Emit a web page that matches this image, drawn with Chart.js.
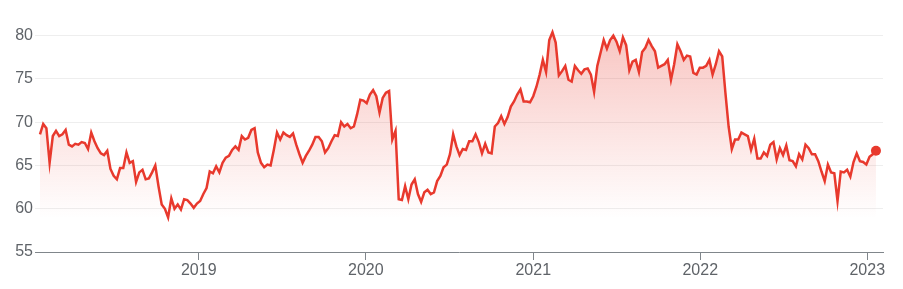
<!DOCTYPE html>
<html lang="en">
<head>
    <meta charset="UTF-8">
    <title>Weekly price</title>
    <script src="https://cdn.jsdelivr.net/npm/chart.js@4.4.0/dist/chart.umd.min.js"></script>
    <style>
        body { margin: 0; background: #fff; }
        #wrap { width: 903px; height: 289px; }
    </style>
</head>
<body>
    <div id="wrap"><canvas id="priceChart" width="903" height="289"></canvas></div>

    <script>
        // weekly closes, first week starting 2018-01-19
        const startDate = Date.UTC(2018, 0, 19);
        const prices = [
            68.6, 69.8, 69.3, 65.3, 68.4, 69.0, 68.4, 68.6, 69.1, 67.4, 67.2, 67.5, 67.4, 67.7, 67.6, 66.9, 68.8, 67.8, 67.0, 66.4,
            66.2, 66.7, 64.6, 63.8, 63.4, 64.7, 64.7, 66.5, 65.3, 65.5, 63.1, 64.2, 64.5, 63.4, 63.5, 64.2, 65.0, 62.6, 60.5, 60.0,
            59.0, 61.2, 60.0, 60.5, 59.9, 61.1, 61.0, 60.6, 60.1, 60.6,
            60.9, 61.7, 62.4, 64.3, 64.1, 64.9, 64.2, 65.3, 65.9, 66.1, 66.8, 67.2, 66.8, 68.4, 68.0, 68.2, 69.1, 69.3, 66.5, 65.3,
            64.8, 65.1, 65.0, 66.8, 68.8, 68.0, 68.8, 68.5, 68.3, 68.7, 67.4, 66.3, 65.3, 66.1, 66.7, 67.4, 68.3, 68.3, 67.8, 66.5,
            67.0, 67.8, 68.5, 68.4, 70.0, 69.5, 69.8, 69.3, 69.5, 70.9, 72.6, 72.5, 72.2, 73.2, 73.7, 73.0,
            71.1, 72.8, 73.4, 73.6, 68.0, 69.0, 61.1, 61.0, 62.6, 61.1, 62.8, 63.4, 61.7, 60.8, 61.9, 62.2, 61.7, 61.9, 63.2, 63.8,
            64.8, 65.1, 66.3, 68.6, 67.2, 66.2, 66.9, 66.8, 67.8, 67.8, 68.6, 67.7, 66.4, 67.5, 66.5, 66.4, 69.5, 69.9, 70.7, 69.8,
            70.6, 71.8, 72.4, 73.2, 73.8, 72.4, 72.4, 72.3, 73.0, 74.1, 75.5, 77.2, 75.8, 79.5, 80.4, 79.2,
            75.4, 75.9, 76.5, 74.9, 74.7, 76.5, 76.0, 75.6, 76.1, 76.2, 75.5, 73.5, 76.5, 78.0, 79.5, 78.5, 79.5, 80.0, 79.3, 78.2,
            79.8, 78.9, 76.0, 77.0, 77.2, 75.8, 78.1, 78.6, 79.5, 78.8, 78.2, 76.3, 76.5, 76.7, 77.2, 74.9, 76.7, 79.0, 78.2, 77.2,
            77.7, 77.6, 75.7, 75.5, 76.3, 76.3, 76.5, 77.2, 75.5, 76.7,
            78.2, 77.6, 73.4, 69.5, 66.9, 68.0, 68.0, 68.8, 68.6, 68.4, 66.8, 68.1, 65.8, 65.8, 66.5, 66.1, 67.4, 67.7, 65.7, 67.0,
            66.2, 67.3, 65.6, 65.5, 64.9, 66.3, 65.7, 67.4, 67.0, 66.3, 66.3, 65.5, 64.3, 63.2, 65.1, 64.2, 64.1, 60.9, 64.3, 64.2,
            64.5, 63.7, 65.4, 66.4, 65.5, 65.4, 65.1, 66.0, 66.3, 66.7
        ];
        const yTicks = [55, 60, 65, 70, 75, 80];
        const yearTicks = [2019, 2020, 2021, 2022, 2023];

        const WEEK = 7 * 24 * 3600 * 1000;
        const points = prices.map((v, i) => ({ x: startDate + i * WEEK, y: v }));
        const lastIndex = prices.length - 1;

        const red = '#e8392d';
        const textGray = '#5f6368';
        const font = { family: 'Arial, "Liberation Sans", sans-serif', size: 16 };

        const ctx = document.getElementById('priceChart').getContext('2d');
        new Chart(ctx, {
            type: 'line',
            data: {
                datasets: [{
                    data: points,
                    borderColor: red,
                    borderWidth: 2.5,
                    tension: 0,
                    fill: 'start',
                    backgroundColor: (c) => {
                        const area = c.chart.chartArea;
                        if (!area) return 'rgba(232,57,45,0.1)';
                        const g = c.chart.ctx.createLinearGradient(0, area.top, 0, area.bottom);
                        g.addColorStop(0, 'rgba(232,57,45,0.30)');
                        g.addColorStop(0.85, 'rgba(232,57,45,0)');
                        return g;
                    },
                    pointRadius: (c) => c.dataIndex === lastIndex ? 5 : 0,
                    pointBackgroundColor: red,
                    pointBorderWidth: 0,
                    pointHoverRadius: 0
                }]
            },
            options: {
                responsive: false,
                animation: false,
                events: [],
                layout: { padding: { top: 27, right: 20, left: 0, bottom: 0 } },
                plugins: {
                    legend: { display: false },
                    tooltip: { enabled: false }
                },
                scales: {
                    x: {
                        type: 'linear',
                        min: startDate - 1.56 * WEEK,
                        max: startDate + (lastIndex + 2.2) * WEEK,
                        afterBuildTicks: (scale) => {
                            scale.ticks = yearTicks.map(y => ({ value: Date.UTC(y, 0, 1) }));
                        },
                        afterFit: (scale) => { scale.height = 37; },
                        ticks: {
                            color: textGray,
                            font: font,
                            padding: 1,
                            maxRotation: 0,
                            autoSkip: false,
                            callback: (value) => new Date(value).getUTCFullYear()
                        },
                        grid: {
                            drawOnChartArea: false,
                            drawTicks: true,
                            tickLength: 8,
                            color: '#80868b'
                        },
                        border: { display: true, color: '#80868b', width: 1 }
                    },
                    y: {
                        min: 55,
                        max: 81,
                        afterBuildTicks: (scale) => {
                            scale.ticks = yTicks.map(v => ({ value: v }));
                        },
                        afterFit: (scale) => { scale.width = 35; },
                        ticks: {
                            color: textGray,
                            font: font,
                            padding: 2
                        },
                        grid: {
                            color: '#eeeeee',
                            drawTicks: false
                        },
                        border: { display: false }
                    }
                }
            }
        });
    </script>
</body>
</html>
